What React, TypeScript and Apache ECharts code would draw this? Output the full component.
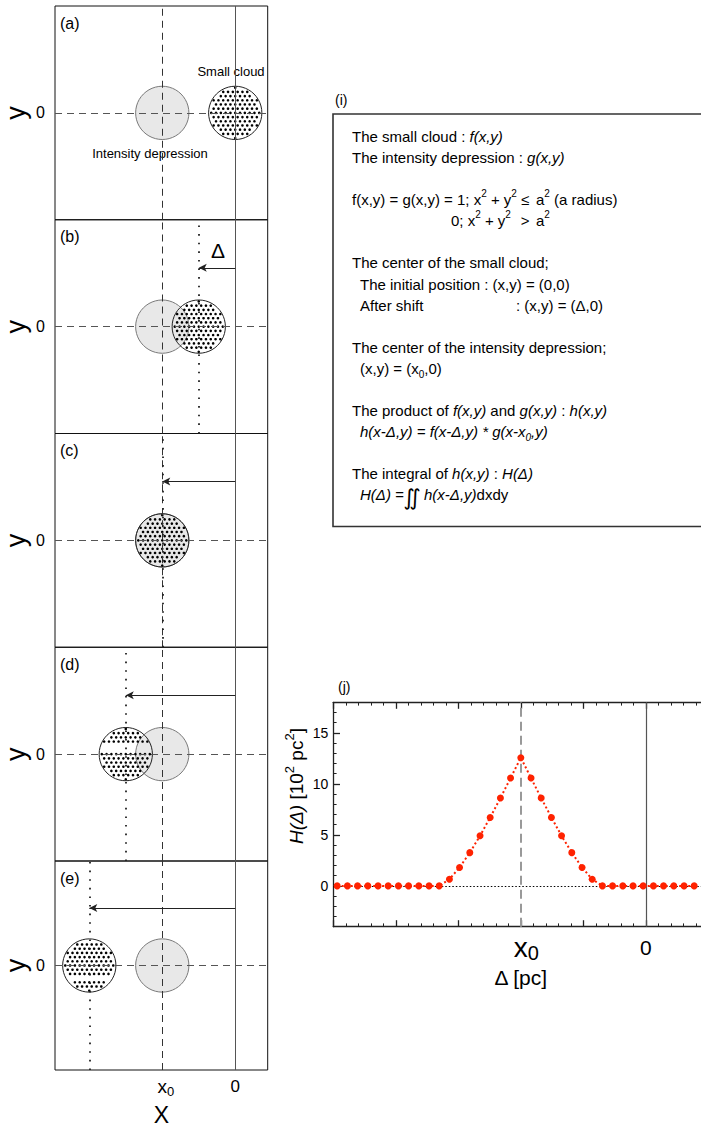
import React, { useEffect, useRef } from "react";
import * as echarts from "echarts";

const FONT = "'Liberation Sans', Arial, Helvetica, sans-serif";

// ---------- data: panels (a)-(e) ----------
const PANEL_LABELS = ["(a)", "(b)", "(c)", "(d)", "(e)"];
const CLOUD_SHIFTS = [0, -1, -2, -3, -4]; // centre of the small cloud (Δ)
const DEPRESSION_X0 = -2; // centre of the intensity depression (x0)
const CLOUD_RADIUS = 0.73; // radius a, in x units
const ARROW_LEVEL = 0.55;
const PANEL_X_TICKS = [-2, 0];

// ---------- data: panel (j) ----------
const DELTA = [
  -24.69, -23.87, -23.06, -22.24, -21.42, -20.61, -19.79, -18.98, -18.16, -17.34,
  -16.53, -15.71, -14.9, -14.08, -13.26, -12.45, -11.63, -10.82, -10.0, -9.18,
  -8.37, -7.55, -6.74, -5.92, -5.1, -4.29, -3.47, -2.66, -1.84, -1.02,
  -0.21, 0.61, 1.42, 2.24, 3.06, 3.87,
];
const H_VALUES = [
  0, 0, 0, 0, 0, 0, 0, 0, 0, 0,
  0, 0.65, 1.81, 3.26, 4.91, 6.71, 8.61, 10.57, 12.57, 10.57,
  8.61, 6.71, 4.91, 3.26, 1.81, 0.65, 0, 0, 0, 0,
  0, 0, 0, 0, 0, 0,
];
const H_MAJOR_TICKS = [0, 5, 10, 15];
const J_X0 = -10;
const J_X_TICKS = [-10, 0];

// ---------- text box (i) ----------
const BOX_LINES: [number, number, string][] = [
  [352, 136, "The small cloud : {i|f(x,y)}"],
  [352, 157, "The intensity depression : {i|g(x,y)}"],
  [352, 199, "f(x,y) = g(x,y) = 1; x{sup|2} + y{sup|2}"],
  [536, 199, "a{sup|2} (a radius)"],
  [451, 220, "0; x{sup|2} + y{sup|2}"],
  [536, 220, "a{sup|2}"],
  [352, 262, "The center of the small cloud;"],
  [360, 284, "The initial position : (x,y) = (0,0)"],
  [360, 305, "After shift"],
  [516, 305, ": (x,y) = (Δ,0)"],
  [352, 347, "The center of the intensity depression;"],
  [360, 368, "(x,y) = (x{sub|0},0)"],
  [352, 410, "The product of {i|f(x,y)} and {i|g(x,y)} : {i|h(x,y)}"],
  [360, 431, "{i|h(x-Δ,y) = f(x-Δ,y) * g(x-x}{isub|0}{i|,y)}"],
  [352, 473, "The integral of {i|h(x,y)} : {i|H(Δ)}"],
  [360, 494, "{i|H(Δ) =}"],
  [424, 494, "{i|h(x-Δ,y)}dxdy"],
];

const P_LEFT = 55;
const P_WIDTH = 212.7;
const P_TOP = 6;
const P_H = 213.75;

const RICH = {
  i: { fontStyle: "italic", fontSize: 15, fontFamily: FONT, fill: "#000", lineHeight: 22 },
  sup: { fontSize: 10, fontFamily: FONT, fill: "#000", verticalAlign: "top", lineHeight: 12 },
  sub: { fontSize: 10, fontFamily: FONT, fill: "#000", verticalAlign: "bottom", lineHeight: 12 },
  isub: { fontSize: 10, fontStyle: "italic", fontFamily: FONT, fill: "#000", verticalAlign: "bottom", lineHeight: 12 },
};

function txt(x: number, y: number, text: string, extra: any = {}) {
  return {
    type: "text",
    x,
    y,
    silent: true,
    style: {
      text,
      fontFamily: FONT,
      fontSize: 15,
      fill: "#000",
      align: "left",
      verticalAlign: "middle",
      lineHeight: 22,
      rich: RICH,
      ...extra,
    },
  };
}

export default function App() {
  const ref = useRef<HTMLDivElement>(null);

  useEffect(() => {
    if (!ref.current) return;
    const chart = echarts.init(ref.current, null, { renderer: "svg" });

    const grids: any[] = [];
    const xAxes: any[] = [];
    const yAxes: any[] = [];
    const series: any[] = [];

    PANEL_LABELS.forEach((_, i) => {
      grids.push({
        left: P_LEFT,
        top: P_TOP + i * P_H,
        width: P_WIDTH,
        height: P_H,
        show: true,
        borderColor: "#111",
        borderWidth: 1,
      });
      const isBottom = i === PANEL_LABELS.length - 1;
      xAxes.push({
        gridIndex: i,
        type: "value",
        min: -4.94,
        max: 0.89,
        axisLine: { show: false, onZero: false },
        axisTick: { show: false },
        splitLine: { show: false },
        axisLabel: isBottom
          ? {
              customValues: PANEL_X_TICKS,
              margin: 4,
              color: "#000",
              fontFamily: FONT,
              formatter: (v: number) => (v === DEPRESSION_X0 ? "{x|x}{s|0}" : "{n|0}"),
              rich: {
                x: { fontSize: 19, lineHeight: 24, padding: [0, 0, 0, 7], fontFamily: FONT },
                s: { fontSize: 13, lineHeight: 13, verticalAlign: "bottom", fontFamily: FONT },
                n: { fontSize: 17, lineHeight: 24, fontFamily: FONT },
              },
            }
          : { show: false },
        name: isBottom ? "X" : "",
        nameLocation: "middle",
        nameGap: 33,
        nameTextStyle: { fontSize: 23, color: "#000", fontFamily: FONT },
      });
      yAxes.push({
        gridIndex: i,
        type: "value",
        min: -1,
        max: 1,
        interval: 1,
        axisLine: { show: false, onZero: false },
        axisTick: { show: false },
        splitLine: { show: false },
        axisLabel: {
          formatter: (v: number) => (v === 0 ? "0" : ""),
          fontSize: 16,
          color: "#000",
          margin: 10,
          fontFamily: FONT,
        },
        name: "y",
        nameLocation: "middle",
        nameGap: 26,
        nameTextStyle: { fontSize: 27, color: "#000", fontFamily: FONT },
      });

      const shift = CLOUD_SHIFTS[i];
      series.push({
        type: "custom",
        xAxisIndex: i,
        yAxisIndex: i,
        z: 1,
        silent: true,
        data: [
          [DEPRESSION_X0, 0, 0],
          [shift, 0, 1],
        ],
        renderItem: (_p: any, api: any) => {
          const c = api.coord([api.value(0), api.value(1)]);
          const r = api.size([CLOUD_RADIUS, 0])[0];
          if (api.value(2) === 0) {
            return {
              type: "circle",
              shape: { cx: c[0], cy: c[1], r },
              style: { fill: "#e8e8e8", stroke: "#7a7a7a", lineWidth: 1 },
            };
          }
          const children: any[] = [];
          const dx = 4.8;
          const dy = 4.2;
          const nRow = Math.ceil(r / dy) + 1;
          const nCol = Math.ceil(r / dx) + 1;
          for (let row = -nRow; row <= nRow; row++) {
            const off = Math.abs(row) % 2 === 1 ? dx / 2 : 0;
            for (let col = -nCol; col <= nCol; col++) {
              const px = col * dx + off;
              const py = row * dy;
              if (px * px + py * py <= (r - 1.3) * (r - 1.3)) {
                children.push({
                  type: "circle",
                  shape: { cx: c[0] + px, cy: c[1] + py, r: 1.3 },
                  style: { fill: "#000" },
                });
              }
            }
          }
          children.push({
            type: "circle",
            shape: { cx: c[0], cy: c[1], r },
            style: { fill: "none", stroke: "#222", lineWidth: 1 },
          });
          return { type: "group", children };
        },
      });

      const lines: any[] = [
        { yAxis: 0, lineStyle: { type: [7, 5], color: "#555", width: 1 } },
        { xAxis: DEPRESSION_X0, lineStyle: { type: [7, 5], color: "#333", width: 1 } },
        { xAxis: 0, lineStyle: { type: "solid", color: "#555", width: 1 } },
      ];
      if (i > 0) {
        lines.push({ xAxis: shift, lineStyle: { type: [1.6, 7], color: "#222", width: 1.8 } });
        lines.push([
          { coord: [0, ARROW_LEVEL], symbol: "none", lineStyle: { type: "solid", color: "#222", width: 1.2 } },
          { coord: [shift, ARROW_LEVEL], symbol: "arrow", symbolSize: [6, 8], lineStyle: { type: "solid", color: "#222", width: 1.2 } },
        ]);
      }
      series.push({
        type: "line",
        xAxisIndex: i,
        yAxisIndex: i,
        data: [],
        z: 5,
        silent: true,
        markLine: {
          silent: true,
          symbol: ["none", "none"],
          label: { show: false },
          emphasis: { disabled: true },
          data: lines,
        },
      });
    });

    // ---------- panel (j) ----------
    const J = 5;
    grids.push({ left: 333.3, top: 702.3, width: 375, height: 224.4, show: false });
    const axisLineStyle = { color: "#222", width: 1.3 };
    xAxes.push({
      gridIndex: J,
      type: "value",
      position: "bottom",
      min: -25,
      max: 5,
      interval: 5,
      axisLine: { show: true, onZero: false, lineStyle: axisLineStyle },
      axisTick: { show: true, inside: true, length: 6.5, lineStyle: axisLineStyle },
      minorTick: { show: true, splitNumber: 5, length: 3.3, lineStyle: { color: "#222", width: 1 } },
      splitLine: { show: false },
      minorSplitLine: { show: false },
      axisLabel: {
        customValues: J_X_TICKS,
        margin: 6,
        color: "#000",
        fontFamily: FONT,
        formatter: (v: number) => (v === J_X0 ? "{x|x}{s|0}" : "{n|0}"),
        rich: {
          x: { fontSize: 28, lineHeight: 30, padding: [0, 0, 0, 11], fontFamily: FONT },
          s: { fontSize: 20, lineHeight: 18, verticalAlign: "bottom", fontFamily: FONT },
          n: { fontSize: 21, lineHeight: 30, fontFamily: FONT },
        },
      },
      name: "Δ [pc]",
      nameLocation: "middle",
      nameGap: 40,
      nameTextStyle: { fontSize: 21, color: "#000", fontFamily: FONT },
    });
    xAxes.push({
      gridIndex: J,
      type: "value",
      position: "top",
      min: -25,
      max: 5,
      interval: 5,
      axisLine: { show: true, onZero: false, lineStyle: axisLineStyle },
      axisTick: { show: true, inside: true, length: 6.5, lineStyle: axisLineStyle },
      minorTick: { show: true, splitNumber: 5, length: 3.3, lineStyle: { color: "#222", width: 1 } },
      splitLine: { show: false },
      axisLabel: { show: false },
    });
    yAxes.push({
      gridIndex: J,
      type: "value",
      position: "left",
      min: -4,
      max: 18,
      interval: 1,
      axisLine: { show: true, onZero: false, lineStyle: axisLineStyle },
      axisTick: { show: true, inside: true, length: 3.3, lineStyle: { color: "#222", width: 1 } },
      splitLine: { show: false },
      axisLabel: {
        formatter: (v: number) => (H_MAJOR_TICKS.indexOf(v) >= 0 ? String(v) : ""),
        fontSize: 14,
        color: "#000",
        margin: 5,
        fontFamily: FONT,
      },
    });
    yAxes.push({
      gridIndex: J,
      type: "value",
      position: "left",
      min: -4,
      max: 18,
      axisLine: { show: false, onZero: false },
      axisTick: { show: true, inside: true, length: 6.7, customValues: H_MAJOR_TICKS, lineStyle: axisLineStyle },
      splitLine: { show: false },
      axisLabel: { show: false },
    });

    series.push({
      type: "line",
      xAxisIndex: J,
      yAxisIndex: J,
      data: [],
      z: 1,
      silent: true,
      markLine: {
        silent: true,
        symbol: ["none", "none"],
        label: { show: false },
        emphasis: { disabled: true },
        data: [
          { yAxis: 0, lineStyle: { type: [1.5, 2], color: "#000", width: 1 } },
          { xAxis: J_X0, lineStyle: { type: [9, 5], color: "#999", width: 2 } },
          { xAxis: 0, lineStyle: { type: "solid", color: "#555", width: 1.2 } },
        ],
      },
    });
    series.push({
      type: "line",
      xAxisIndex: J,
      yAxisIndex: J,
      z: 10,
      silent: true,
      data: DELTA.map((d, k) => [d, H_VALUES[k]]),
      symbol: "circle",
      symbolSize: 7,
      itemStyle: { color: "#ff2200" },
      lineStyle: { color: "#ff2200", width: 2, type: [2, 2.5] },
    });

    // ---------- graphic texts ----------
    const graphic: any[] = [];
    PANEL_LABELS.forEach((lab, i) => {
      graphic.push(txt(60, P_TOP + i * P_H + 17, lab, { fontSize: 16 }));
    });
    graphic.push(txt(231, 71, "Small cloud", { fontSize: 13, align: "center" }));
    graphic.push(txt(150, 153, "Intensity depression", { fontSize: 13, align: "center" }));
    graphic.push(txt(218, 250, "Δ", { fontSize: 21, align: "center" }));

    graphic.push(txt(335, 100, "(i)", { fontSize: 14 }));
    graphic.push({
      type: "rect",
      silent: true,
      shape: { x: 333, y: 114, width: 400, height: 412.5 },
      style: { fill: "none", stroke: "#333", lineWidth: 1.6 },
    });
    BOX_LINES.forEach(([x, y, t]) => graphic.push(txt(x, y, t)));
    graphic.push(txt(525, 199, "≤", { align: "center", fontSize: 15 }));
    graphic.push(txt(525, 220, ">", { align: "center", fontSize: 15 }));
    graphic.push(
      txt(412, 497, "∬", { align: "center", fontSize: 22, fontFamily: "'DejaVu Sans', sans-serif", fontStyle: "italic" })
    );

    graphic.push(txt(338, 687, "(j)", { fontSize: 14 }));
    graphic.push({
      type: "text",
      x: 296,
      y: 786,
      rotation: Math.PI / 2,
      silent: true,
      style: {
        text: "{hi|H(Δ)} [10{hs|2} pc{hs|2}]",
        fontFamily: FONT,
        fontSize: 19,
        fill: "#000",
        align: "center",
        verticalAlign: "middle",
        lineHeight: 26,
        rich: {
          hi: { fontStyle: "italic", fontSize: 19, fontFamily: FONT, fill: "#000", lineHeight: 26 },
          hs: { fontSize: 13, fontFamily: FONT, fill: "#000", verticalAlign: "top", lineHeight: 14 },
        },
      },
    });

    chart.setOption({
      animation: false,
      textStyle: { fontFamily: FONT },
      grid: grids,
      xAxis: xAxes,
      yAxis: yAxes,
      series,
      graphic,
    });

    return () => chart.dispose();
  }, []);

  return (
    <div
      style={{ position: "absolute", left: 0, top: 0, width: 701, height: 1127, overflow: "hidden", background: "#fff" }}
    >
      <div ref={ref} style={{ width: 740, height: 1127 }} />
    </div>
  );
}
